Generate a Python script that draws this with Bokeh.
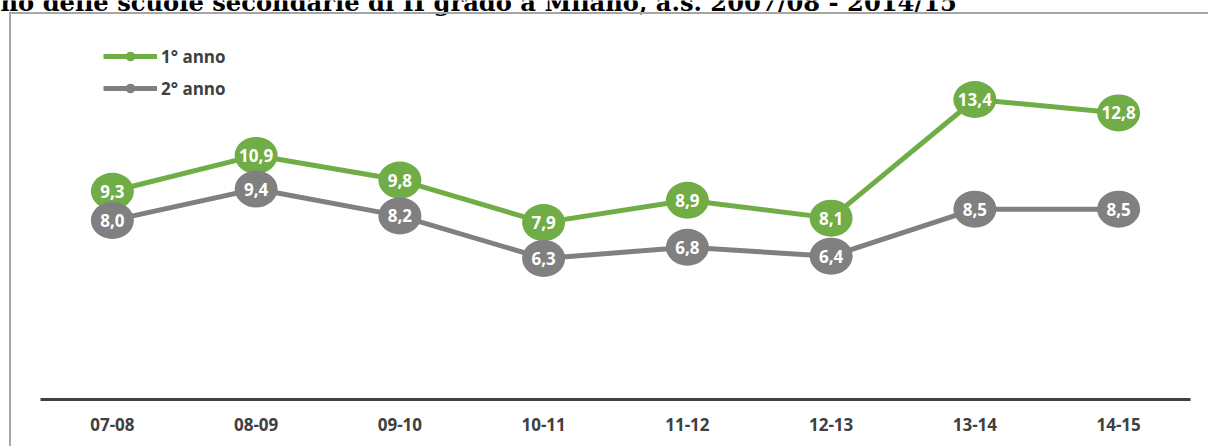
from bokeh.plotting import figure
from bokeh.models import (Range1d, Legend, LegendItem, Label, FixedTicker,
                          ColumnDataSource, GlobalInlineStyleSheet)
from bokeh.core.properties import value
from bokeh.embed import file_html
from bokeh.resources import INLINE

# ---- data ----
years = ["07-08", "08-09", "09-10", "10-11", "11-12", "12-13", "13-14", "14-15"]
anno1 = [9.3, 10.9, 9.8, 7.9, 8.9, 8.1, 13.4, 12.8]
anno2 = [8.0, 9.4, 8.2, 6.3, 6.8, 6.4, 8.5, 8.5]
series_names = ["1° anno", "2° anno"]
title_text = "no delle scuole secondarie di II grado a Milano, a.s. 2007/08 - 2014/15"

GREEN = "#70AD47"
GRAY = "#808080"
DARK = "#404040"
FONT = "Open Sans"


def fmt(v):
    return f"{v:.1f}".replace(".", ",")


# category slots: each category occupies one unit, centred at i + 0.5
xpos = [i + 0.5 for i in range(len(years))]

src1 = ColumnDataSource(dict(x=xpos, y=anno1, lab=[fmt(v) for v in anno1]))
src2 = ColumnDataSource(dict(x=xpos, y=anno2, lab=[fmt(v) for v in anno2]))

n = len(years)
p = figure(width=1208, height=446,
           x_range=Range1d(-40 / 143.75, n + 18 / 143.75),
           y_range=Range1d(0, 399 / 22.39),
           output_backend="svg", toolbar_location=None,
           min_border_left=0, min_border_right=0,
           min_border_top=0, min_border_bottom=47)

p.outline_line_color = None
p.xgrid.visible = False
p.ygrid.visible = False
p.yaxis.visible = False
p.background_fill_color = "white"
p.border_fill_color = "white"

xa = p.xaxis[0]
xa.ticker = FixedTicker(ticks=xpos)
xa.major_label_overrides = {x: lab for x, lab in zip(xpos, years)}
xa.bounds = (0, n)
xa.axis_line_width = 3
xa.axis_line_color = DARK
xa.major_tick_line_color = None
xa.minor_tick_line_color = None
xa.major_tick_out = 0
xa.major_tick_in = 0
xa.major_label_standoff = 18
xa.major_label_text_font = FONT
xa.major_label_text_font_style = "bold"
xa.major_label_text_font_size = "17px"
xa.major_label_text_color = DARK

# lines
l1 = p.line("x", "y", source=src1, line_color=GREEN, line_width=5)
l2 = p.line("x", "y", source=src2, line_color=GRAY, line_width=5)
# small markers (for legend), hidden under bubbles
s1 = p.scatter("x", "y", source=src1, size=10, fill_color=GREEN, line_color=None)
s2 = p.scatter("x", "y", source=src2, size=10, fill_color=GRAY, line_color=None)
# bubbles
p.ellipse("x", "y", source=src1, width=43, height=37, width_units="screen",
          height_units="screen", fill_color=GREEN, line_color=None)
p.ellipse("x", "y", source=src2, width=43, height=37, width_units="screen",
          height_units="screen", fill_color=GRAY, line_color=None)
# labels
for src in (src1, src2):
    p.text("x", "y", text="lab", source=src, text_font=value(FONT),
           text_font_style="bold", text_font_size="17px", text_color="white",
           text_align="center", text_baseline="middle")

legend = Legend(items=[LegendItem(label=series_names[0], renderers=[l1, s1]),
                       LegendItem(label=series_names[1], renderers=[l2, s2])],
                location=(103, 299), orientation="vertical",
                glyph_width=54, glyph_height=24, label_height=24,
                label_standoff=4, spacing=8, padding=0, margin=0,
                border_line_color=None, background_fill_alpha=0,
                label_text_font=FONT, label_text_font_style="bold",
                label_text_font_size="17px", label_text_color=DARK)
p.add_layout(legend)

# title, cut off by the top edge as in the source image
p.add_layout(Label(x=0, y=397, x_units="screen", y_units="screen",
                   text=title_text, text_font="DejaVu Serif",
                   text_font_style="bold", text_font_size="24.2px",
                   text_color="black", text_baseline="alphabetic"))

# outer chart frame (light gray box, running off the right/bottom edges)
p.stylesheets = [GlobalInlineStyleSheet(css=(
    "body::after{content:'';position:fixed;left:9px;top:12px;right:0;bottom:0;"
    "border-left:2px solid #A6A6A6;border-top:2px solid #A6A6A6;"
    "pointer-events:none;z-index:100}"))]

open("out.html", "w").write(file_html(p, INLINE))
